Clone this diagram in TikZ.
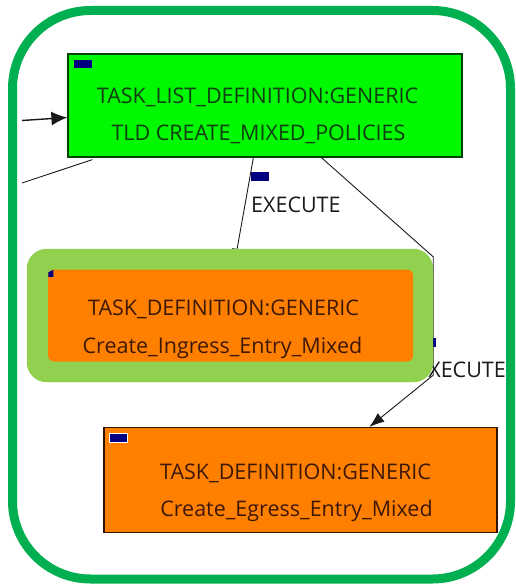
\documentclass[tikz,border=0pt]{standalone}
\usepackage{fontspec}
\setmainfont{Open Sans}
\usetikzlibrary{arrows.meta}
\definecolor{frameGreen}{HTML}{00B050}
\definecolor{hiGreen}{HTML}{92D050}
\definecolor{tldFill}{HTML}{00F800}
\definecolor{taskFill}{HTML}{FF8000}
\definecolor{markBlue}{HTML}{000080}
\definecolor{tldText}{HTML}{103E10}
\definecolor{taskText}{HTML}{3E1806}
\definecolor{edgeDark}{HTML}{1A1A1A}
\tikzset{
  txt/.style={inner sep=0pt, anchor=base, font=\fontsize{21.5}{26}\selectfont},
  tldbox/.style={draw=black!75!green, line width=1.2pt, fill=tldFill, inner sep=0pt},
  taskbox/.style={draw=taskText!80!black, line width=1.2pt, fill=taskFill, inner sep=0pt},
  marker/.style={fill=markBlue, draw=none, inner sep=0pt, minimum width=18pt, minimum height=8.5pt, anchor=north west},
  conn/.style={draw=edgeDark, line width=0.9pt},
  tip/.style={-{Latex[length=15pt,width=11pt]}},
}
\begin{document}
\begin{tikzpicture}[x=1pt,y=-1pt]
\useasboundingbox (0,0) rectangle (516,586);

% outer rounded frame
\draw[frameGreen, line width=9pt, rounded corners=78pt] (12.5,10.5) rectangle (510.5,579);

% task list definition box
\node[tldbox, minimum width=394pt, minimum height=103pt] (tldbox) at (265,105.5) {};
\node[marker] (tldmark) at (73.5,59.5) {};
\node[txt, text=tldText] (tldtitle) at (257.5,103) {TASK\_LIST\_DEFINITION:GENERIC};
\node[txt, text=tldText] (tldname) at (258.5,140) {TLD CREATE\_MIXED\_POLICIES};

% egress task box
\node[taskbox, minimum width=393pt, minimum height=105pt] (egbox) at (300.5,480) {};
\node[marker, draw=white, line width=0.6pt] (egmark) at (109,433) {};
\node[txt, text=taskText] (egtitle) at (295.5,479) {TASK\_DEFINITION:GENERIC};
\node[txt, text=taskText] (egname) at (296.5,516) {Create\_Egress\_Entry\_Mixed};

% incoming connectors on the left
\coordinate (inA) at (22,120.5);
\coordinate (inB) at (22,183);
\draw[conn, line width=1.4pt, -{Latex[length=16pt,width=14pt]}] (inA) -- ([yshift=-12pt]tldbox.west);
\draw[conn] ([xshift=25pt,yshift=-2pt]tldbox.south west) -- (inB);

% highlight frame (placed here so connectors can be referenced to it)
\node[fill=hiGreen, rounded corners=20pt, minimum width=406pt, minimum height=133pt, inner sep=0pt] (hl) at (230,315.5) {};

% EXECUTE connector to the ingress task (its head ends under the highlight)
\draw[conn, -{Latex[length=13pt,width=10pt]}] ([xshift=186pt]tldbox.south west) -- ([xshift=208pt,yshift=-13pt]hl.north west);
\node[marker] (exmark1) at (251,172) {};
\node[txt, anchor=base west, text=edgeDark] (exlbl1) at (251,212) {EXECUTE};

% EXECUTE connector to the egress task
\coordinate (bendA) at ([yshift=-8pt]hl.north east);
\coordinate (bendB) at ([yshift=7pt]hl.south east);
\draw[conn, tip] ([xshift=254pt]tldbox.south west) -- (bendA) -- (bendB) -- ([xshift=266pt]egbox.north west);
\node[marker] (exmark2) at (418,338) {};
\node[txt, anchor=base east, text=edgeDark] (exlbl2) at (506,377) {EXECUTE};

% highlighted ingress task drawn over its connectors
\fill[hiGreen, rounded corners=20pt] (hl.north west) rectangle (hl.south east);
\node[fill=taskFill, rounded corners=6pt, minimum width=365pt, minimum height=92pt, inner sep=0pt] (ingbox) at (230.5,315.5) {};
\fill[markBlue] (ingbox.north west) ++(0.5,3) -- ++(5,-2.5) -- ++(0,7) -- ++(-5,0) -- cycle;
\node[txt, text=taskText] (ingtitle) at (223.5,315) {TASK\_DEFINITION:GENERIC};
\node[txt, text=taskText] (ingname) at (222.5,353) {Create\_Ingress\_Entry\_Mixed};
\end{tikzpicture}
\end{document}
